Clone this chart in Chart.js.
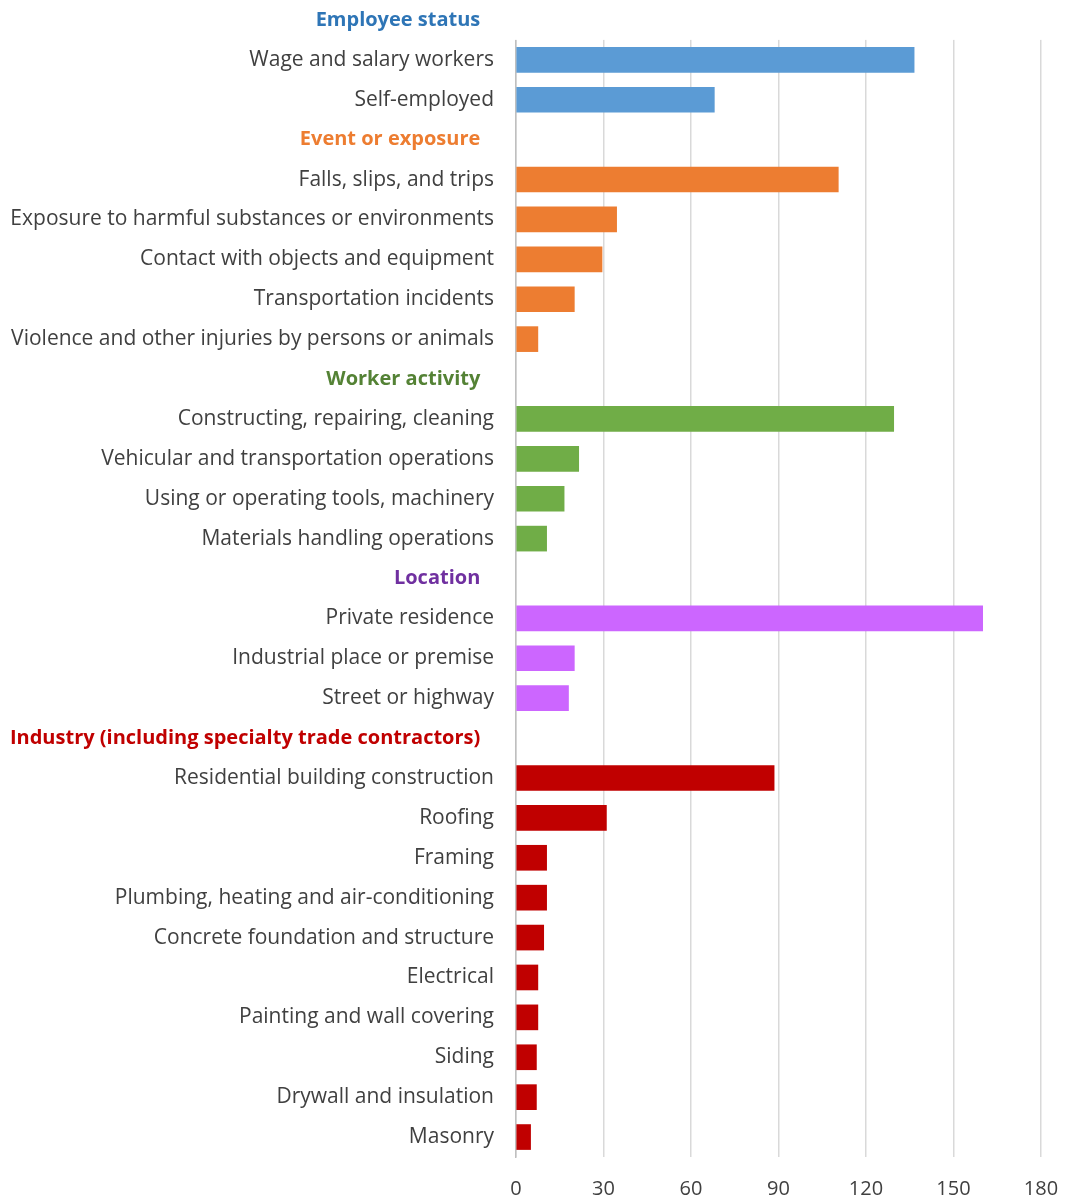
<!DOCTYPE html>
<html>
<head>
<meta charset="utf-8">
<script src="https://cdn.jsdelivr.net/npm/chart.js@4"></script>
<style>
  html, body { margin: 0; padding: 0; background: #ffffff; }
  #wrap { width: 1065px; height: 1200px; position: relative; }
</style>
</head>
<body>
<div id="wrap"><canvas id="c"></canvas></div>
<script>
// ---- Data ----
const groupNames = [
  "Employee status",
  "Event or exposure",
  "Worker activity",
  "Location",
  "Industry (including specialty trade contractors)"
];
const groupHeaderColors = ["#2E75B6", "#ED7D31", "#548235", "#7030A0", "#C00000"];
const groupBarColors = ["#5B9BD5", "#ED7D31", "#70AD47", "#CC66FF", "#C00000"];

const employeeLabels = ["Wage and salary workers", "Self-employed"];
const employeeValues = [136.5, 68];

const eventLabels = ["Falls, slips, and trips", "Exposure to harmful substances or environments",
  "Contact with objects and equipment", "Transportation incidents",
  "Violence and other injuries by persons or animals"];
const eventValues = [110.5, 34.5, 29.5, 20, 7.5];

const activityLabels = ["Constructing, repairing, cleaning", "Vehicular and transportation operations",
  "Using or operating tools, machinery", "Materials handling operations"];
const activityValues = [129.5, 21.5, 16.5, 10.5];

const locationLabels = ["Private residence", "Industrial place or premise", "Street or highway"];
const locationValues = [160, 20, 18];

const industryLabels = ["Residential building construction", "Roofing", "Framing",
  "Plumbing, heating and air-conditioning", "Concrete foundation and structure",
  "Electrical", "Painting and wall covering", "Siding", "Drywall and insulation", "Masonry"];
const industryValues = [88.5, 31, 10.5, 10.5, 9.5, 7.5, 7.5, 7, 7, 5];

const xTicks = [0, 30, 60, 90, 120, 150, 180];

// ---- Build table ----
const groupLabels = [employeeLabels, eventLabels, activityLabels, locationLabels, industryLabels];
const groupValues = [employeeValues, eventValues, activityValues, locationValues, industryValues];

const categories = [];
const values = [];
const barColors = [];
const labelColors = [];
const isHeader = [];
groupNames.forEach((g, gi) => {
  categories.push(g + "  \u2009");
  values.push(null);
  barColors.push("rgba(0,0,0,0)");
  labelColors.push(groupHeaderColors[gi]);
  isHeader.push(true);
  groupLabels[gi].forEach((l, li) => {
    categories.push(l);
    values.push(groupValues[gi][li]);
    barColors.push(groupBarColors[gi]);
    labelColors.push("#404040");
    isHeader.push(false);
  });
});

const FONT = "'Open Sans', 'Noto Sans', sans-serif";

// cover gridlines above the first data row (header row area)
const topCover = {
  id: 'topCover',
  beforeDatasetsDraw(chart) {
    const y = chart.scales.y;
    const ca = chart.chartArea;
    const boundary = (y.getPixelForValue(0) + y.getPixelForValue(1)) / 2;
    const ctx = chart.ctx;
    ctx.save();
    ctx.fillStyle = '#ffffff';
    ctx.fillRect(ca.left - 3, 0, ca.right - ca.left + 10, boundary);
    ctx.restore();
  }
};

new Chart(document.getElementById('c'), {
  type: 'bar',
  data: {
    labels: categories,
    datasets: [{
      data: values,
      backgroundColor: barColors,
      borderWidth: 0,
      barThickness: 25
    }]
  },
  options: {
    indexAxis: 'y',
    responsive: true,
    maintainAspectRatio: false,
    animation: false,
    layout: { padding: { left: 0, right: 24, top: 0, bottom: 0 } },
    plugins: { legend: { display: false }, tooltip: { enabled: false } },
    scales: {
      x: {
        min: 0,
        max: 180,
        afterBuildTicks(scale) { scale.ticks = xTicks.map(v => ({ value: v })); },
        afterFit(scale) { scale.paddingLeft = 0; scale.paddingRight = 0; scale.height = 43; },
        grid: { color: '#d9d9d9', lineWidth: 1.5, drawTicks: false },
        border: { display: false },
        ticks: { color: '#404040', font: { family: FONT, size: 20 }, padding: 20 }
      },
      y: {
        afterFit(scale) { scale.width = 516; scale.paddingTop = 0; scale.paddingBottom = 0; },
        grid: { display: false, drawTicks: false },
        border: { display: true, color: '#bfbfbf', width: 1.5 },
        ticks: {
          autoSkip: false,
          padding: 22,
          color: ctx => labelColors[ctx.index],
          font: ctx => isHeader[ctx.index]
            ? { family: FONT, size: 20, weight: 'bold' }
            : { family: FONT, size: 21 }
        }
      }
    }
  },
  plugins: [topCover]
});
</script>
</body>
</html>
